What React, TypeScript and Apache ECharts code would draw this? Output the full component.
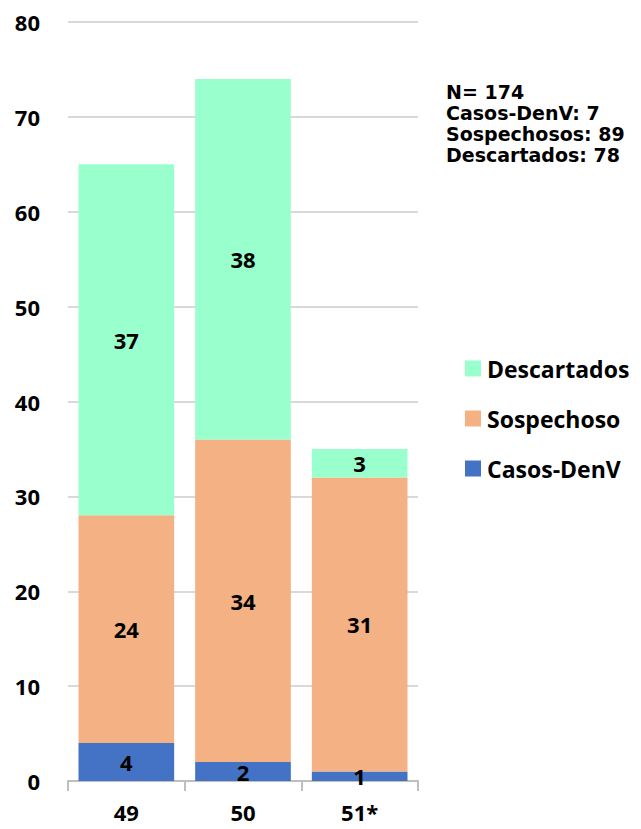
import React, { useEffect, useRef } from "react";
import * as echarts from "echarts";

const categories = ["49", "50", "51*"];
const casosDenV = [4, 2, 1];
const sospechoso = [24, 34, 31];
const descartados = [37, 38, 3];
const yTicks = { min: 0, max: 80, interval: 10 };
const annotation = ["N= 174", "Casos-DenV: 7", "Sospechosos: 89", "Descartados: 78"];

const FONT = "'Open Sans', 'Noto Sans', sans-serif";

export default function App() {
  const ref = useRef<HTMLDivElement>(null);
  useEffect(() => {
    if (!ref.current) return;
    const chart = echarts.init(ref.current, null, { renderer: "svg" });
    const label = {
      show: true,
      position: "inside",
      color: "#000",
      fontWeight: "bold",
      fontSize: 22,
      fontFamily: FONT,
    };
    chart.setOption({
      animation: false,
      backgroundColor: "#fff",
      grid: { left: 68, right: 223, top: 22, bottom: 48, containLabel: false },
      legend: {
        orient: "vertical",
        left: 460,
        top: 352,
        itemWidth: 16,
        itemHeight: 16,
        itemGap: 27,
        icon: "rect",
        data: ["Descartados", "Sospechoso", "Casos-DenV"],
        textStyle: { fontSize: 23, fontWeight: "bold", fontFamily: FONT, color: "#000", padding: [0, 0, 0, 1] },
      },
      xAxis: {
        type: "category",
        data: categories,
        axisLine: { show: true, lineStyle: { color: "#bfbfbf", width: 2 } },
        axisTick: { show: true, length: 10, lineStyle: { color: "#bfbfbf", width: 2 } },
        axisLabel: { fontSize: 22, fontWeight: "bold", fontFamily: FONT, color: "#000", margin: 20 },
      },
      yAxis: {
        type: "value",
        min: yTicks.min,
        max: yTicks.max,
        interval: yTicks.interval,
        axisLine: { show: false },
        axisTick: { show: false },
        splitLine: { lineStyle: { color: "#d9d9d9", width: 2 } },
        axisLabel: { fontSize: 22, fontWeight: "bold", fontFamily: FONT, color: "#000", margin: 28 },
      },
      graphic: annotation.map((t, i) => ({
        type: "text",
        left: 446,
        top: 82 + i * 21,
        style: { text: t, fontSize: 19, fontWeight: "bold", fontFamily: "'DejaVu Sans', sans-serif", fill: "#000" },
      })),
      series: [
        { name: "Casos-DenV", type: "bar", stack: "a", data: casosDenV, barCategoryGap: "18%", itemStyle: { color: "#4472C4" }, label },
        { name: "Sospechoso", type: "bar", stack: "a", data: sospechoso, itemStyle: { color: "#F4B183" }, label },
        { name: "Descartados", type: "bar", stack: "a", data: descartados, itemStyle: { color: "#99FFCC" }, label },
      ],
    });
    return () => chart.dispose();
  }, []);
  return <div ref={ref} style={{ width: 641, height: 829, position: "absolute", left: 0, top: 0 }} />;
}
